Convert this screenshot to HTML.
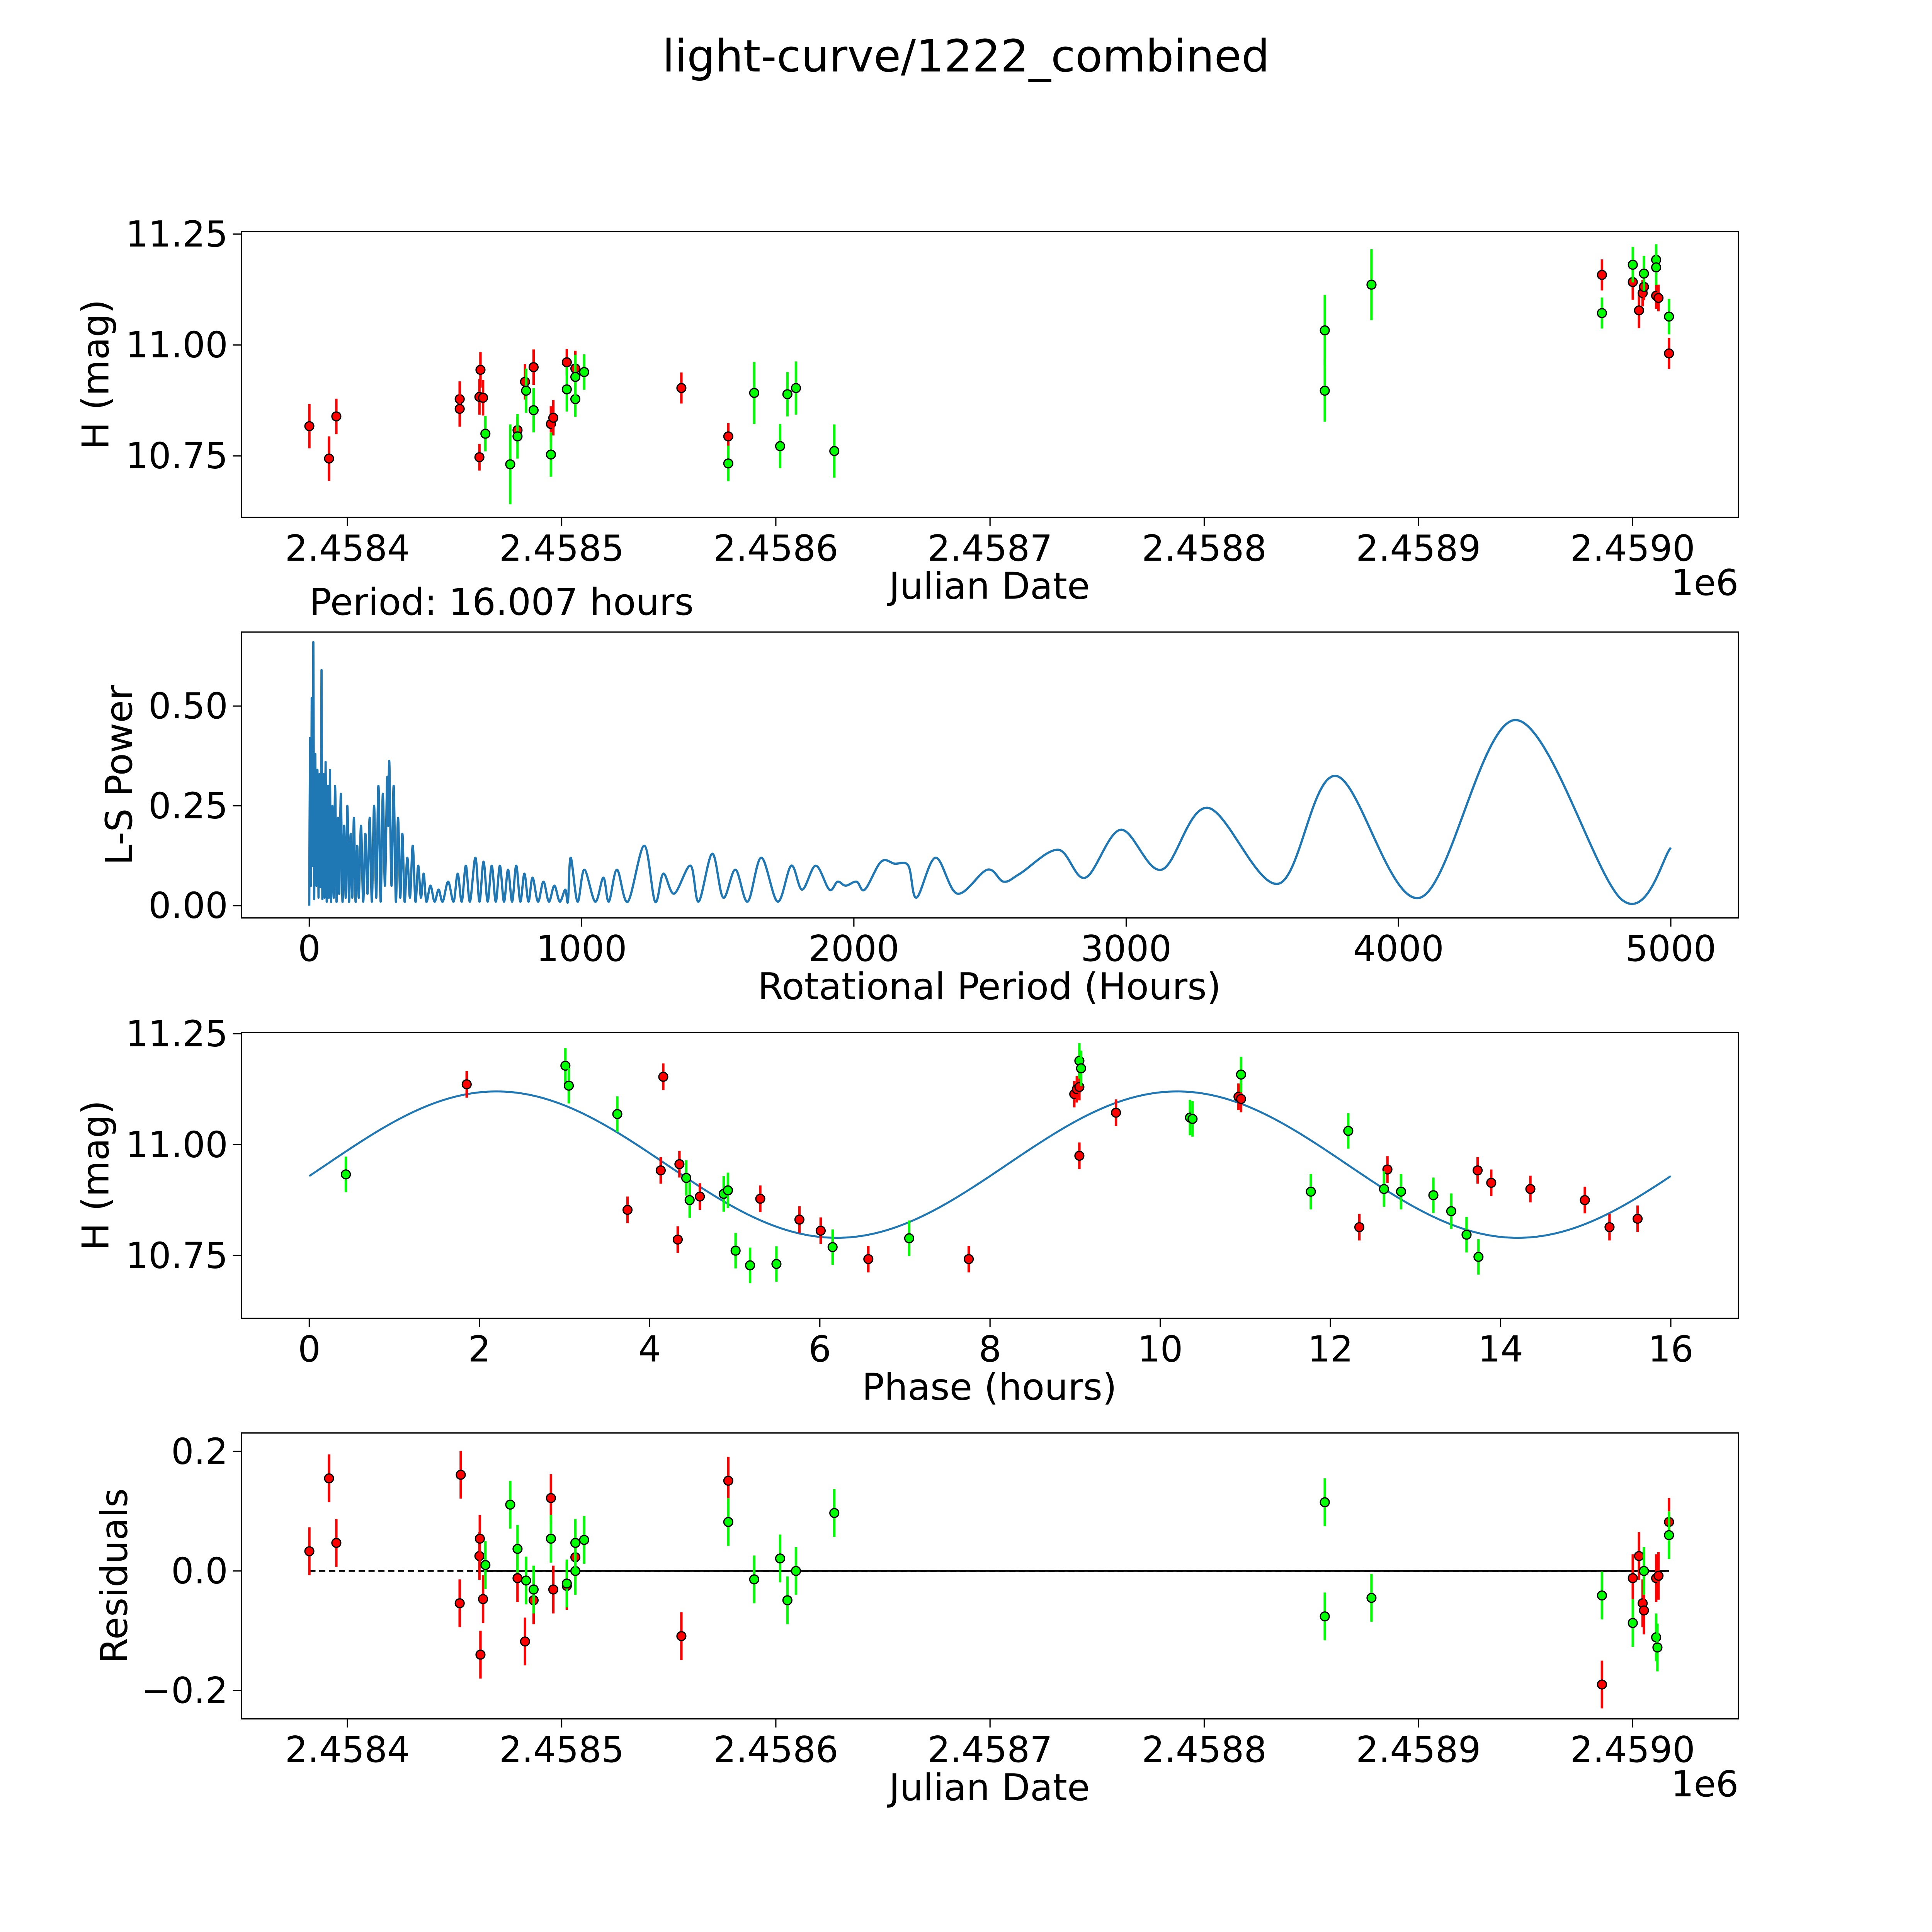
<!DOCTYPE html>
<html><head><meta charset="utf-8"><style>
html,body{margin:0;padding:0;background:#fff;overflow:hidden;width:100vw;height:100vh}
svg{display:block;width:100vw;height:100vh}
text{font-family:"DejaVu Sans","Liberation Sans",sans-serif;fill:#000}
</style></head><body>
<svg id="fig" viewBox="0 0 1568 1568" preserveAspectRatio="none" xmlns="http://www.w3.org/2000/svg">
<rect width="1568" height="1568" fill="#fff"/>
<text x="784" y="58" font-size="36" text-anchor="middle">light-curve/1222_combined</text>
<text x="251" y="499" font-size="30">Period: 16.007 hours</text>
</svg>
<script>
// ---- Panel 1: light curve (days offset from 2458400) ----
const lcRedT=[-17.8,-8.6,-5.2,52.4,52.4,61.6,61.6,62.1,63.3,79.4,82.9,86.9,95,96.1,102.4,106.4,155.9,177.8,585.7,600.1,603,604.7,605.3,611,612.1,617];
const lcRedH=[10.817,10.744,10.839,10.878,10.856,10.747,10.883,10.944,10.881,10.808,10.917,10.95,10.822,10.836,10.961,10.947,10.903,10.794,11.158,11.142,11.078,11.117,11.131,11.111,11.106,10.981];
const lcRedE=[0.05,0.05,0.04,0.04,0.04,0.03,0.04,0.04,0.04,0.03,0.04,0.04,0.04,0.04,0.03,0.04,0.035,0.03,0.035,0.04,0.04,0.03,0.03,0.03,0.03,0.035];
const lcGrnT=[64.4,76,79.4,83.4,86.9,95,102.4,106.4,106.4,110.5,177.8,189.9,202,205.4,209.4,227.3,456.3,456.3,478.1,585.7,600.1,605.3,611,611,617];
const lcGrnH=[10.8,10.731,10.794,10.897,10.853,10.753,10.9,10.878,10.928,10.939,10.733,10.892,10.772,10.889,10.903,10.761,11.033,10.897,11.136,11.072,11.181,11.161,11.192,11.175,11.064];
const lcGrnE=[0.04,0.09,0.05,0.05,0.05,0.05,0.05,0.04,0.05,0.04,0.04,0.07,0.05,0.05,0.06,0.06,0.08,0.07,0.08,0.035,0.04,0.04,0.035,0.04,0.04];
const jdTicks=["2.4584","2.4585","2.4586","2.4587","2.4588","2.4589","2.4590"];
const jdTickVals=[0,100,200,300,400,500,600];
const hTicks=["10.75","11.00","11.25"];
const hTickVals=[10.75,11.0,11.25];
// ---- Panel 2: Lomb-Scargle periodogram ----
const lsPeriod=[0,3,6,9,12,15,18,22,26,30,34,38,42,45,48,52,56,60,64,68,72,76,80,85,90,95,100,105,110,116,122,128,134,140,146,152,158,164,170,176,182,190,198,206,214,222,230,238,246,254,262,270,278,286,290,294,302,310,318,326,334,342,350,360,370,380,390,400,410,420,430,445,460,475,490,510,530,545,560,575,590,610,625,640,655,670,685,700,715,730,745,760,775,790,805,820,840,860,880,900,920,940,950,960,985,1010,1050,1080,1100,1130,1170,1230,1270,1300,1340,1400,1430,1480,1520,1565,1610,1660,1720,1770,1810,1860,1910,1940,1970,2010,2040,2100,2150,2200,2230,2300,2380,2490,2550,2610,2750,2850,2980,3130,3300,3560,3770,4080,4430,4820,5000];
const lsPower=[0,0.42,0.05,0.52,0.1,0.66,0.02,0.38,0.05,0.34,0.02,0.33,0.05,0.59,0.02,0.33,0.02,0.36,0.01,0.3,0.02,0.34,0.01,0.25,0.02,0.3,0.01,0.22,0.03,0.28,0.01,0.2,0.02,0.25,0.01,0.18,0.02,0.22,0.01,0.15,0.02,0.2,0.01,0.18,0.03,0.22,0.01,0.25,0.02,0.3,0.01,0.28,0.05,0.32,0.2,0.36,0.05,0.3,0.01,0.22,0.02,0.18,0.01,0.12,0.02,0.15,0.01,0.1,0.02,0.08,0.01,0.05,0.01,0.04,0.01,0.06,0.01,0.08,0.01,0.1,0.01,0.12,0.01,0.11,0.01,0.1,0.01,0.1,0.01,0.09,0.01,0.1,0.01,0.08,0.01,0.07,0.01,0.06,0.01,0.05,0.01,0.04,0.01,0.12,0.01,0.09,0.01,0.07,0.01,0.09,0.01,0.15,0.01,0.08,0.03,0.1,0.01,0.13,0.02,0.09,0.01,0.12,0.01,0.1,0.04,0.1,0.04,0.06,0.05,0.06,0.04,0.11,0.105,0.1,0.02,0.12,0.03,0.09,0.06,0.08,0.14,0.07,0.19,0.09,0.245,0.055,0.325,0.02,0.465,0.015,0.145];
const lsXTicks=["0","1000","2000","3000","4000","5000"];
const lsXVals=[0,1000,2000,3000,4000,5000];
const lsYTicks=["0.00","0.25","0.50"];
const lsYVals=[0,0.25,0.5];
// ---- Panel 3: phased curve ----
const phRedP=[1.85,3.74,4.13,4.16,4.33,4.35,4.59,5.3,5.76,6.01,6.57,7.75,8.99,9.02,9.05,9.05,9.48,10.92,10.95,12.34,12.67,13.73,13.89,14.35,14.99,15.28,15.61];
const phRedH=[11.136,10.853,10.942,11.153,10.786,10.956,10.883,10.878,10.831,10.806,10.742,10.742,11.114,11.125,11.13,10.975,11.072,11.108,11.103,10.814,10.944,10.942,10.914,10.9,10.875,10.814,10.833];
const phGrnP=[0.43,3.01,3.05,3.62,4.43,4.47,4.87,4.92,5.01,5.18,5.49,6.15,7.05,9.05,9.07,10.35,10.38,10.95,11.77,12.21,12.63,12.83,13.21,13.42,13.6,13.74];
const phGrnH=[10.933,11.178,11.133,11.069,10.925,10.875,10.889,10.897,10.761,10.728,10.731,10.769,10.789,11.189,11.172,11.061,11.058,11.158,10.894,11.031,10.9,10.894,10.886,10.85,10.797,10.747];
const fitParams=[10.955,0.165,8.0,2.2]; // mean, amplitude, period(h), peak phase
const phXTicks=["0","2","4","6","8","10","12","14","16"];
const phXVals=[0,2,4,6,8,10,12,14,16];
// ---- Panel 4: residuals ----
const resRedT=[-17.8,-8.6,-5.2,52.4,52.9,61.6,61.8,62.1,63.3,79.4,82.9,86.9,95,96.1,102.4,106.4,155.9,177.8,585.7,600.1,603,604.7,605.3,611,612.1,617];
const resRedV=[0.033,0.155,0.047,-0.054,0.161,0.025,0.054,-0.14,-0.047,-0.012,-0.118,-0.049,0.122,-0.031,-0.025,0.023,-0.109,0.151,-0.19,-0.012,0.025,-0.054,-0.066,-0.012,-0.008,0.082];
const resGrnT=[64.4,76,79.4,83.4,86.9,95,102.4,106.4,106.4,110.5,177.8,189.9,202,205.4,209.4,227.3,456.3,456.3,478.1,585.7,600.1,605.3,611,611.6,617];
const resGrnV=[0.01,0.111,0.037,-0.016,-0.031,0.054,-0.021,0.0,0.047,0.052,0.082,-0.014,0.021,-0.049,0.0,0.097,0.115,-0.076,-0.045,-0.041,-0.087,0.0,-0.111,-0.128,0.06];
const resE=0.04;
const resYTicks=["\u22120.2","0.0","0.2"];
const resYVals=[-0.2,0,0.2];

const NS="http://www.w3.org/2000/svg";
const svg=document.getElementById('fig');
function mk(tag,attrs,parent){const e=document.createElementNS(NS,tag);for(const k in attrs)e.setAttribute(k,attrs[k]);(parent||svg).appendChild(e);return e;}
function lin(d0,d1,r0,r1){return v=>r0+(v-d0)*(r1-r0)/(d1-d0);}

const X0=196,X1=1411;
const panels=[{y0:188,y1:420,name:'light-curve-panel'},{y0:513,y1:745,name:'periodogram-panel'},{y0:838,y1:1070,name:'phase-panel'},{y0:1163,y1:1395,name:'residuals-panel'}];
const jdX=lin(0,600,282,1325);

function axes(p,xs,xv,xfn,ys,yv,yfn,xlabel,ylabel,ylabX,name){
  const g=mk('g',{});
  
  
  const fr=mk('rect',{x:X0,y:p.y0,width:X1-X0,height:p.y1-p.y0,fill:'none',stroke:'#000','stroke-width':1},g);
  
  
  xs.forEach((t,i)=>{const x=xfn(xv[i]);
    mk('line',{x1:x,x2:x,y1:p.y1,y2:p.y1+7,stroke:'#000','stroke-width':1},g);
    const tx=mk('text',{x:x,y:p.y1+35,'font-size':29,'text-anchor':'middle'},g);tx.textContent=t;
    
    });
  ys.forEach((t,i)=>{const y=yfn(yv[i]);
    mk('line',{x1:X0-7,x2:X0,y1:y,y2:y,stroke:'#000','stroke-width':1},g);
    const tx=mk('text',{x:X0-11,y:y+10,'font-size':29,'text-anchor':'end'},g);tx.textContent=t;
    
    });
  const xl=mk('text',{x:803,y:p.y1+66,'font-size':30,'text-anchor':'middle'},g);xl.textContent=xlabel;
  
  
  const cy=(p.y0+p.y1)/2;
  const yl=mk('text',{x:ylabX,y:cy,'font-size':30,'text-anchor':'middle',transform:`rotate(-90 ${ylabX} ${cy})`},g);yl.textContent=ylabel;
  
  
  return g;
}
function offsetLabel(p){const t=mk('text',{x:1411,y:p.y1+63,'font-size':29,'text-anchor':'end'});t.textContent='1e6';
  
  }
function points(xa,ya,ea,xfn,yfn,col,name){
  const g=mk('g',{});
  
  
  xa.forEach((xv,i)=>{const x=xfn(xv),y=yfn(ya[i]);const e=Array.isArray(ea)?ea[i]:ea;
    const l=mk('line',{x1:x,x2:x,y1:yfn(ya[i]-e),y2:yfn(ya[i]+e),stroke:col,'stroke-width':2},g);
    
    
    const c=mk('circle',{cx:x,cy:y,r:3.6,fill:col,stroke:'#000','stroke-width':1},g);
    
    });
}
// Panel 1
{const p=panels[0];const yf=lin(10.75,11.25,370,190);
 axes(p,jdTicks,jdTickVals,jdX,hTicks,hTickVals,yf,'Julian Date','H (mag)',88,p.name);offsetLabel(p);
 points(lcRedT,lcRedH,lcRedE,jdX,yf,'#ff0000','red-band-points');
 points(lcGrnT,lcGrnH,lcGrnE,jdX,yf,'#00ff00','green-band-points');}
// Panel 2
{const p=panels[1];const xf=lin(0,5000,251,1356),yf=lin(0,0.5,735,573);
 axes(p,lsXTicks,lsXVals,xf,lsYTicks,lsYVals,yf,'Rotational Period (Hours)','L-S Power',107,p.name);
 const P=lsPeriod.map((v,i)=>[xf(v),yf(lsPower[i])]);
 let d=`M${P[0][0]},${P[0][1]}`;
 for(let i=0;i<P.length-1;i++){const p0=P[Math.max(0,i-1)],p1=P[i],p2=P[i+1],p3=P[Math.min(P.length-1,i+2)];
  const t=1/6;d+=` C${p1[0]+(p2[0]-p0[0])*t},${p1[1]+(p2[1]-p0[1])*t} ${p2[0]-(p3[0]-p1[0])*t},${p2[1]-(p3[1]-p1[1])*t} ${p2[0]},${p2[1]}`;}
 const path=mk('path',{d:d,fill:'none',stroke:'#1f77b4','stroke-width':1.8,'stroke-linejoin':'round'});
 
 }
// Panel 3
{const p=panels[2];const xf=lin(0,16,251,1356),yf=lin(10.75,11.25,1019,839);
 axes(p,phXTicks,phXVals,xf,hTicks,hTickVals,yf,'Phase (hours)','H (mag)',88,p.name);
 const [m,a,per,pk]=fitParams;let d='';
 for(let i=0;i<=320;i++){const ph=16*i/320;const h=m+a*Math.cos(2*Math.PI*(ph-pk)/per);d+=(i?'L':'M')+xf(ph)+','+yf(h);}
 const fl=mk('path',{d:d,fill:'none',stroke:'#1f77b4','stroke-width':1.6});
 
 
 points(phRedP,phRedH,0.03,xf,yf,'#ff0000','red-phase-points');
 points(phGrnP,phGrnH,0.04,xf,yf,'#00ff00','green-phase-points');}
// Panel 4
{const p=panels[3];const yf=lin(-0.2,0.2,1372,1178);
 axes(p,jdTicks,jdTickVals,jdX,resYTicks,resYVals,yf,'Julian Date','Residuals',103,p.name);offsetLabel(p);
 const z1=mk('line',{x1:jdX(-17.8),x2:jdX(617),y1:yf(0),y2:yf(0),stroke:'#000','stroke-width':1.3,'stroke-dasharray':'5,3'});
 
 
 const z2=mk('line',{x1:jdX(60),x2:jdX(617),y1:yf(0),y2:yf(0),stroke:'#000','stroke-width':1.3});
 
 
 points(resRedT,resRedV,resE,jdX,yf,'#ff0000','red-residual-points');
 points(resGrnT,resGrnV,resE,jdX,yf,'#00ff00','green-residual-points');}
</script>
</body></html>
